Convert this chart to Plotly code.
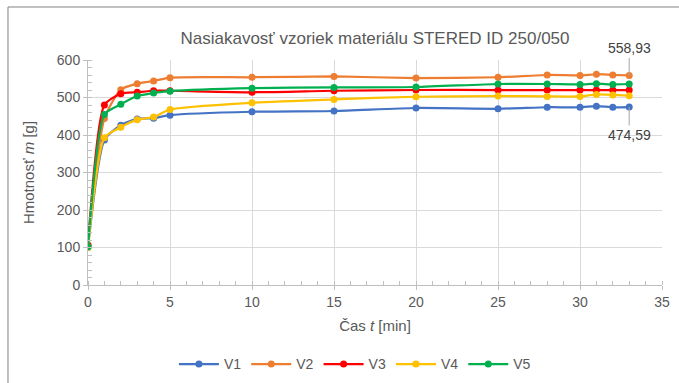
import plotly.graph_objects as go

t = [0, 1, 2, 3, 4, 5, 10, 15, 20, 25, 28, 30, 31, 32, 33]
V1 = [101, 387, 426, 443, 445, 453, 462, 464, 472, 470, 474, 474, 477, 474, 474.59]
V2 = [104, 444, 521, 537, 544, 553, 554, 556, 552, 554, 560, 559, 562, 560, 558.93]
V3 = [107, 480, 510, 514, 518, 518, 514, 518, 520, 520, 520, 520, 520, 520, 520]
V4 = [100, 393, 421, 441, 448, 468, 486, 495, 502, 504, 503, 503, 508, 507, 505]
V5 = [102, 455, 482, 504, 512, 517, 525, 527, 528, 536, 536, 535, 537, 535, 536]
names = ["V1", "V2", "V3", "V4", "V5"]
colors = ["#4472C4", "#ED7D31", "#FF0000", "#FFC000", "#00B050"]
series = [V1, V2, V3, V4, V5]

GRAY = "#595959"
FONT = "Liberation Sans, Arial, sans-serif"

fig = go.Figure()
for n, c, s in zip(names, colors, series):
    fig.add_trace(go.Scatter(
        x=t, y=s, name=n, mode="lines+markers",
        line=dict(color=c, width=2.25, shape="spline", smoothing=0.6),
        marker=dict(color=c, size=7),
    ))

fig.add_annotation(x=33, y=V2[-1], text="558,93", showarrow=True, arrowhead=0,
                   arrowcolor="#a6a6a6", arrowwidth=1, ax=0, ay=-27,
                   font=dict(size=14, color="#404040", family=FONT))
fig.add_annotation(x=33, y=V1[-1], text="474,59", showarrow=True, arrowhead=0,
                   arrowcolor="#a6a6a6", arrowwidth=1, ax=0, ay=28,
                   font=dict(size=14, color="#404040", family=FONT))

# outer chart-area frame (paper coords relative to plot area 88..662 x 60..285)
fig.add_shape(type="rect", xref="paper", yref="paper",
              x0=-0.1394, y0=-0.6, x1=1.2, y1=1.2356,
              line=dict(color="#808080", width=1), fillcolor="rgba(0,0,0,0)", layer="below")

fig.update_layout(
    width=679, height=383,
    margin=dict(l=88, r=17, t=60, b=98, autoexpand=False),
    paper_bgcolor="white", plot_bgcolor="white",
    font=dict(family=FONT, color=GRAY, size=14),
    title=dict(text="Nasiakavosť vzoriek materiálu STERED ID 250/050",
               x=0.5, xref="paper", xanchor="center", y=0.9, yanchor="middle", yref="container",
               font=dict(size=17, color=GRAY, family=FONT)),
    showlegend=True,
    legend=dict(orientation="h", x=0.465, xanchor="center", y=-0.353, yanchor="middle",
                font=dict(size=14, color=GRAY, family=FONT), itemwidth=40, tracegroupgap=0),
    xaxis=dict(range=[0, 35], dtick=5, tick0=0, showgrid=True, gridcolor="#D9D9D9",
               showline=True, linecolor="#BFBFBF", linewidth=1, zeroline=False,
               ticks="outside", ticklen=4, tickcolor="#BFBFBF", automargin=False,
               minor=dict(dtick=1, ticks="inside", ticklen=4, tickcolor="#BFBFBF", showgrid=False),
               title=dict(text="Čas <i>t</i> [min]", font=dict(size=15, color=GRAY, family=FONT), standoff=11),
               tickfont=dict(size=14, color=GRAY)),
    yaxis=dict(range=[0, 600], dtick=100, tick0=0, showgrid=True, gridcolor="#D9D9D9",
               showline=True, linecolor="#BFBFBF", linewidth=1, zeroline=False,
               ticks="outside", ticklen=4, tickcolor="#BFBFBF", automargin=False,
               minor=dict(dtick=20, ticks="inside", ticklen=4, tickcolor="#BFBFBF", showgrid=False),
               title=dict(text="Hmotnosť <i>m</i> [g]", font=dict(size=15, color=GRAY, family=FONT), standoff=18),
               tickfont=dict(size=14, color=GRAY)),
)

fig.write_html("out.html")
